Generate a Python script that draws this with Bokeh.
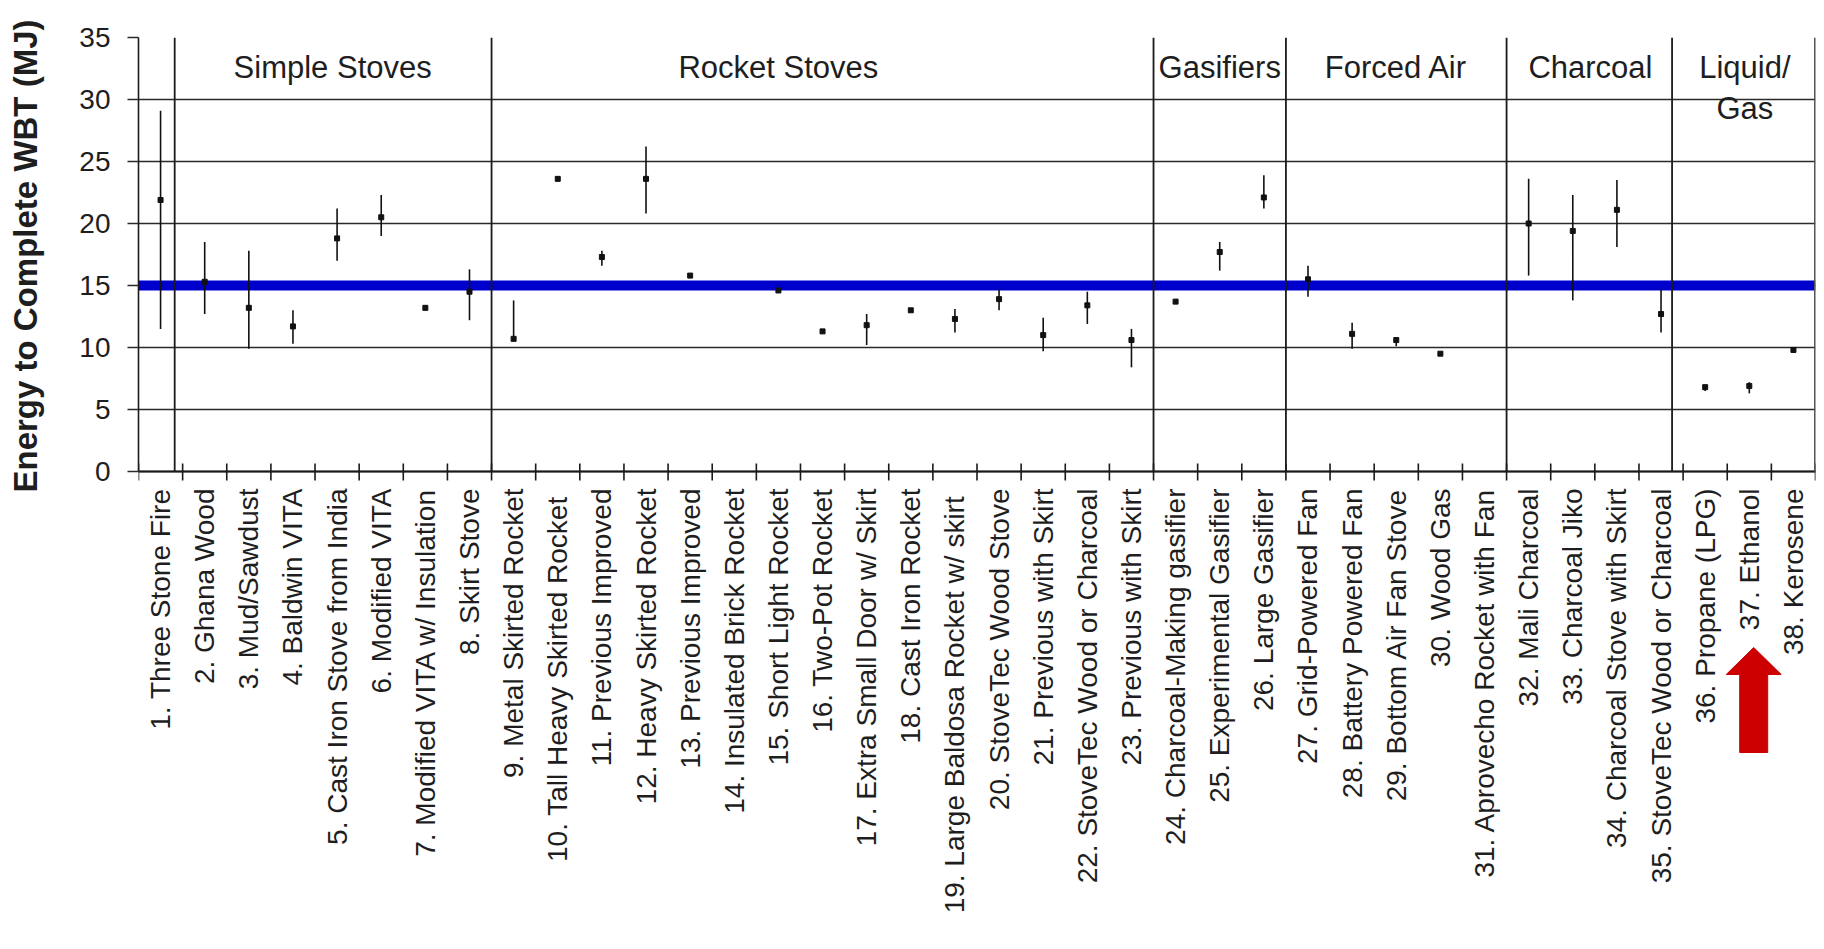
import math
from bokeh.plotting import figure
from bokeh.models import ColumnDataSource, FixedTicker, Span, Range1d, Title
from bokeh.core.properties import value
from bokeh.embed import file_html
from bokeh.resources import INLINE

nan = float("nan")

categories = [
    "1. Three Stone Fire", "2. Ghana Wood", "3. Mud/Sawdust", "4. Baldwin VITA",
    "5. Cast Iron Stove from India", "6. Modified VITA", "7. Modified VITA w/ Insulation",
    "8. Skirt Stove", "9. Metal Skirted Rocket", "10. Tall Heavy  Skirted Rocket",
    "11. Previous Improved", "12. Heavy Skirted Rocket", "13. Previous Improved",
    "14. Insulated Brick Rocket", "15. Short Light Rocket", "16. Two-Pot Rocket",
    "17. Extra Small Door w/ Skirt", "18. Cast Iron Rocket",
    "19. Large Baldosa Rocket  w/ skirt", "20. StoveTec Wood Stove",
    "21. Previous with Skirt", "22. StoveTec Wood or Charcoal", "23. Previous with Skirt",
    "24. Charcoal-Making gasifier", "25. Experimental Gasifier", "26. Large Gasifier",
    "27. Grid-Powered Fan", "28. Battery Powered Fan", "29. Bottom Air Fan Stove",
    "30. Wood Gas", "31. Aprovecho Rocket with Fan", "32. Mali Charcoal",
    "33. Charcoal Jiko", "34. Charcoal Stove with Skirt", "35. StoveTec Wood or Charcoal",
    "36. Propane (LPG)", "37. Ethanol", "38. Kerosene",
]

energy_mean = [21.9, 15.3, 13.2, 11.7, 18.8, 20.5, 13.2, 14.5, 10.7, 23.6,
               17.3, 23.6, 15.8, nan, 14.6, 11.3, 11.8, 13.0, 12.3, 13.9,
               11.0, 13.4, 10.6, 13.7, 17.7, 22.1, 15.5, 11.1, 10.6, 9.5,
               nan, 20.0, 19.4, 21.1, 12.7, 6.8, 6.9, 9.8]
energy_low = [11.5, 12.7, 9.9, 10.3, 17.0, 19.0, 13.0, 12.2, 10.7, 23.5,
              16.6, 20.8, 15.7, nan, 14.5, 11.2, 10.2, 12.9, 11.2, 13.0,
              9.7, 11.9, 8.4, 13.6, 16.2, 21.2, 14.1, 9.9, 10.1, 9.4,
              nan, 15.8, 13.8, 18.1, 11.2, 6.5, 6.3, 9.7]
energy_high = [29.1, 18.5, 17.8, 13.0, 21.2, 22.3, 13.4, 16.3, 13.8, 23.7,
               17.8, 26.2, 15.9, nan, 14.7, 11.4, 12.7, 13.1, 13.1, 14.7,
               12.4, 14.5, 11.5, 13.8, 18.5, 23.9, 16.6, 12.0, 10.8, 9.6,
               nan, 23.6, 22.3, 23.5, 14.7, 7.0, 7.2, 9.9]

group_names = ["Simple Stoves", "Rocket Stoves", "Gasifiers", "Forced Air", "Charcoal", "Liquid/\nGas"]
y_title = "Energy to Complete WBT (MJ)"
reference_line = 15
y_ticks = [0, 5, 10, 15, 20, 25, 30, 35]
y_max = 35

# ---- layout (not data) ----
divider_x = [0.82, 8, 23, 26, 31, 34.75]
group_label_x = [4.4, 14.5, 24.5, 28.5, 32.9, 36.4]
group_label_y = 32.6
highlight_index = 36            # "37. Ethanol" gets the red arrow

W, H = 1820, 945
LEFT, RIGHT, TOP = 138, 5, 37
PLOT_H = 434                    # pixel height of the 0..35 value band
frame_h = H - TOP
frame_w = W - LEFT - RIGHT
py = PLOT_H / y_max             # pixels per MJ
n = len(categories)
px = frame_w / n                # pixels per category
y_lo = y_max - frame_h / py     # frame extends below 0 to hold labels and arrow

centers = [i + 0.5 for i in range(n)]
bounds = [float(i) for i in range(n + 1)]

FONT = "Liberation Sans"
TXT = "#1e1e1e"
LINE = "#1a1a1a"

p = figure(width=W, height=H, output_backend="svg", toolbar_location=None,
           x_range=Range1d(0, n), y_range=Range1d(y_lo, y_max), x_axis_location=None,
           min_border_left=LEFT, min_border_right=RIGHT, min_border_top=TOP,
           min_border_bottom=0)
p.background_fill_color = "white"
p.border_fill_color = "white"
p.outline_line_color = None

# horizontal grid
p.xgrid.grid_line_color = None
p.ygrid.ticker = FixedTicker(ticks=y_ticks)
p.ygrid.grid_line_color = "#2a2a2a"
p.ygrid.grid_line_width = 1.6

# y axis, restricted to 0..35
p.yaxis.bounds = (0, y_max)
p.yaxis.ticker = FixedTicker(ticks=y_ticks)
p.yaxis.major_tick_out = 11
p.yaxis.major_tick_in = 0
p.yaxis.minor_tick_line_color = None
p.yaxis.major_tick_line_color = "#2a2a2a"
p.yaxis.major_tick_line_width = 1.6
p.yaxis.axis_line_color = LINE
p.yaxis.axis_line_width = 1.6
p.yaxis.major_label_standoff = 17
p.yaxis.major_label_text_font = FONT
p.yaxis.major_label_text_font_size = "28px"
p.yaxis.major_label_text_color = TXT
# blank axis label used only as spacing between the tick labels and the title
p.yaxis.axis_label = " "
p.yaxis.axis_label_text_font_size = "8px"
p.yaxis.axis_label_standoff = 18

# y title: starts (bottom end) just below the 0 line of the 0..35 band
title_start = TOP + PLOT_H + 21
p.add_layout(Title(text=y_title, align="left", offset=H - title_start,
                   text_font=FONT, text_font_style="bold", text_font_size="33px",
                   text_color=TXT, standoff=6), "left")

# reference line
p.add_layout(Span(location=reference_line, dimension="width", line_color="#0000cc",
                  line_width=10, level="underlay"))

# x axis line, boundary ticks and right border
p.segment(x0=[0], y0=[0], x1=[n], y1=[0], line_color=LINE, line_width=1.8)
tick_in, tick_out = 8 / py, 9 / py
p.segment(x0=bounds, y0=[-tick_out] * len(bounds), x1=bounds, y1=[tick_in] * len(bounds),
          line_color=LINE, line_width=1.6)
p.segment(x0=[n], y0=[0], x1=[n], y1=[y_max], line_color="#555555", line_width=3)

# category labels (vertical, reading upward, ending just below the axis)
lab_src = ColumnDataSource(dict(x=centers, y=[0] * n, t=categories))
p.text(x="x", y="y", text="t", source=lab_src, angle=math.pi / 2, y_offset=17,
       text_align="right", text_baseline="middle", text_font=value(FONT),
       text_font_size="28px", text_color=TXT)

# group dividers
p.segment(x0=divider_x, y0=[0] * len(divider_x), x1=divider_x, y1=[y_max] * len(divider_x),
          line_color=LINE, line_width=1.8)

# group labels (each line drawn separately, going downward)
gx, gy, gt, goff = [], [], [], []
for x, name in zip(group_label_x, group_names):
    for k, line in enumerate(name.split("\n")):
        gx.append(x)
        gy.append(group_label_y)
        gt.append(line)
        goff.append(k * 41)
glab_src = ColumnDataSource(dict(x=gx, y=gy, t=gt, off=goff))
p.text(x="x", y="y", text="t", y_offset="off", source=glab_src, text_font=value(FONT),
       text_font_size="31px", text_color=TXT, text_align="center", text_baseline="middle")

# error bars and means
src = ColumnDataSource(dict(x=centers, m=energy_mean, lo=energy_low, hi=energy_high))
p.segment(x0="x", y0="lo", x1="x", y1="hi", source=src, line_color="#111111", line_width=1.6)
p.scatter(x="x", y="m", source=src, marker="square", size=5, fill_color="#111111",
          line_color="#111111")

# red block arrow under the highlighted label (sizes in pixels converted to data units)
ax = centers[highlight_index] + 0.1
tip_y = -176 / py
head_y = -203 / py
tail_y = -281 / py
head_hw = 27.5 / px
shaft_hw = 14 / px
p.patch(x=[ax, ax + head_hw, ax + shaft_hw, ax + shaft_hw, ax - shaft_hw, ax - shaft_hw, ax - head_hw],
        y=[tip_y, head_y, head_y, tail_y, tail_y, head_y, head_y],
        fill_color="#cc0000", line_color="#cc0000", line_width=1)

open("out.html", "w").write(file_html(p, INLINE))
